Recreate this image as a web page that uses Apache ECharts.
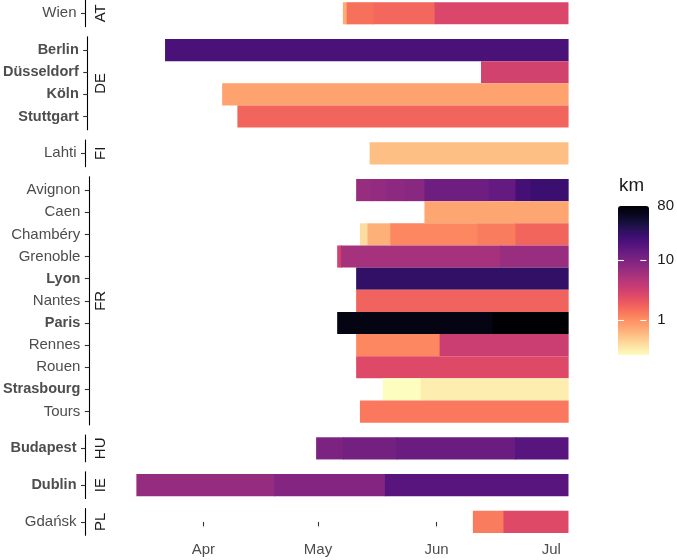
<!DOCTYPE html>
<html><head><meta charset="utf-8">
<script src="https://cdn.jsdelivr.net/npm/echarts@6/dist/echarts.min.js"></script>
<style>html,body{margin:0;padding:0;background:#fff}#c{width:677px;height:560px}</style>
</head><body><div id="c"></div>
<script>
// ---------- data ----------
const countries = ["AT", "DE", "FI", "FR", "HU", "IE", "PL"];
const citiesAT = ["Wien"];
const citiesDE = ["Berlin", "Düsseldorf", "Köln", "Stuttgart"];
const citiesFI = ["Lahti"];
const citiesFR = ["Avignon", "Caen", "Chambéry", "Grenoble", "Lyon", "Nantes", "Paris", "Rennes", "Rouen", "Strasbourg", "Tours"];
const citiesHU = ["Budapest"];
const citiesIE = ["Dublin"];
const citiesPL = ["Gdańsk"];
const boldCities = ["Berlin", "Düsseldorf", "Köln", "Stuttgart", "Lyon", "Paris", "Strasbourg", "Budapest", "Dublin"];

// runs: [city, first day, km]; a run lasts until the next run of the same city starts (or lastDay)
const runsAT = [["Wien", "2020-05-08", 0.7], ["Wien", "2020-05-09", 1.45], ["Wien", "2020-05-16", 1.63], ["Wien", "2020-06-01", 2.72]];
const runsDE = [["Berlin", "2020-03-22", 20.8], ["Düsseldorf", "2020-06-13", 3.05], ["Köln", "2020-04-06", 0.79], ["Stuttgart", "2020-04-10", 1.67]];
const runsFI = [["Lahti", "2020-05-15", 0.56]];
const runsFR = [
  ["Avignon", "2020-05-11", 7.0], ["Avignon", "2020-05-15", 7.4], ["Avignon", "2020-05-19", 8.0], ["Avignon", "2020-05-24", 8.4], ["Avignon", "2020-05-29", 12.4], ["Avignon", "2020-06-15", 14.4], ["Avignon", "2020-06-22", 22.7], ["Avignon", "2020-06-26", 25.4],
  ["Caen", "2020-05-29", 0.75],
  ["Chambéry", "2020-05-12", 0.39], ["Chambéry", "2020-05-14", 0.67], ["Chambéry", "2020-05-20", 1.12], ["Chambéry", "2020-06-12", 1.26], ["Chambéry", "2020-06-22", 1.67],
  ["Grenoble", "2020-05-06", 3.05], ["Grenoble", "2020-05-07", 5.7], ["Grenoble", "2020-06-18", 6.8],
  ["Lyon", "2020-05-11", 28.5],
  ["Nantes", "2020-05-11", 1.72],
  ["Paris", "2020-05-06", 67], ["Paris", "2020-06-16", 80],
  ["Rennes", "2020-05-11", 1.12], ["Rennes", "2020-06-02", 3.4],
  ["Rouen", "2020-05-11", 2.57],
  ["Strasbourg", "2020-05-18", 0.26], ["Strasbourg", "2020-05-28", 0.32],
  ["Tours", "2020-05-12", 1.33]
];
const runsHU = [["Budapest", "2020-05-01", 10.2], ["Budapest", "2020-05-08", 11.4], ["Budapest", "2020-05-22", 13.2], ["Budapest", "2020-06-22", 17]];
const runsIE = [["Dublin", "2020-03-15", 7.2], ["Dublin", "2020-04-20", 9.1], ["Dublin", "2020-05-19", 17]];
const runsPL = [["Gdańsk", "2020-06-11", 1.26], ["Gdańsk", "2020-06-19", 2.57]];
const lastDay = "2020-07-05";

const monthTicks = ["2020-04-01", "2020-05-01", "2020-06-01", "2020-07-01"];
const monthLabels = ["Apr", "May", "Jun", "Jul"];
const kmTicks = [1, 10, 80];
const kmTickLabels = ["1", "10", "80"];
const kmMin = 0.26, kmMax = 80;

// ---------- layout / style ----------
const xMin = "2020-03-01T04:41:00Z", xMax = "2020-07-11T03:00:00Z";
const ROW_H = 22.15, PAD = 0.1, PANEL_GAP = 10.2, TOP0 = 0;
const GRID_LEFT = 85.5, GRID_RIGHT = 87;
const FONT = "'Liberation Sans', Arial, Helvetica, sans-serif";
const magmaRev = ["#FCFDBF","#FDE7A9","#FECF92","#FEB77E","#FE9F6D","#FC8961","#F7705C","#ED5A5F","#DE4968","#CA3E72","#B73779","#A1307E","#8C2981","#782281","#641A80","#51127C","#3B0F70","#251255","#140E36","#07061C","#000004"];

const DAY = 86400000;
const ts = s => Date.parse(s + "T00:00:00Z");
const monthTickTs = monthTicks.map(ts);
const cityGroups = [citiesAT, citiesDE, citiesFI, citiesFR, citiesHU, citiesIE, citiesPL];
const runGroups = [runsAT, runsDE, runsFI, runsFR, runsHU, runsIE, runsPL];

function buildTiles(cities, runs) {
  const out = [];
  cities.forEach((c, idx) => {
    const rs = runs.filter(r => r[0] === c);
    rs.forEach((r, i) => {
      const start = ts(r[1]) - DAY / 2;
      const last = i + 1 === rs.length;
      const end = last ? ts(lastDay) + DAY / 2 : ts(rs[i + 1][1]) - DAY / 2;
      out.push([start, end, idx, Math.log10(r[2]), r[2], last ? 0 : 1]);
    });
  });
  return out;
}

function renderTile(params, api) {
  const a = api.coord([api.value(0), api.value(2)]);
  const b = api.coord([api.value(1), api.value(2)]);
  const h = api.size([0, 1])[1];
  const overlap = api.value(5) ? 0.8 : 0; // hide anti-aliasing seams between touching runs
  return {
    type: 'rect',
    shape: { x: a[0], y: a[1] - h / 2, width: b[0] - a[0] + overlap, height: h },
    style: { fill: api.visual('color') }
  };
}

function nearestLabel(v, positions, labels) {
  let best = 0;
  positions.forEach((p, i) => { if (Math.abs(p - v) < Math.abs(positions[best] - v)) best = i; });
  return labels[best];
}

const grids = [], xAxes = [], yAxes = [], series = [], graphics = [];
let panelTop = TOP0;
cityGroups.forEach((cities, g) => {
  const n = cities.length;
  const height = (n + 2 * PAD) * ROW_H;
  grids.push({ left: GRID_LEFT, right: GRID_RIGHT, top: panelTop, height: height });
  const isLast = g === cityGroups.length - 1;
  xAxes.push({
    gridIndex: g, type: 'value', min: Date.parse(xMin), max: Date.parse(xMax),
    show: isLast,
    axisLine: { show: false },
    splitLine: { show: false },
    axisTick: { show: true, customValues: monthTickTs, length: 4.5, lineStyle: { color: '#333333', width: 1.1 } },
    axisLabel: {
      show: true, customValues: monthTickTs, margin: 7,
      fontSize: 15, color: '#4D4D4D', fontFamily: FONT,
      formatter: v => nearestLabel(v, monthTickTs, monthLabels)
    }
  });
  yAxes.push({
    gridIndex: g, type: 'value', inverse: true, min: -0.5 - PAD, max: n - 0.5 + PAD,
    splitLine: { show: false },
    axisLine: { show: true, lineStyle: { color: '#000000', width: 1.1 } },
    axisTick: { show: true, customValues: cities.map((c, i) => i), length: 4.5, lineStyle: { color: '#333333', width: 1.1 } },
    axisLabel: {
      show: true, customValues: cities.map((c, i) => i), margin: 9,
      formatter: v => { const c = cities[Math.round(v)]; return c ? (boldCities.includes(c) ? '{b|' + c + '}' : '{n|' + c + '}') : ''; },
      rich: {
        b: { fontSize: 14.5, fontWeight: 'bold', color: '#4D4D4D', fontFamily: FONT },
        n: { fontSize: 15, color: '#4D4D4D', fontFamily: FONT }
      }
    }
  });
  series.push({
    type: 'custom', xAxisIndex: g, yAxisIndex: g,
    renderItem: renderTile, encode: { x: [0, 1], y: 2 },
    data: buildTiles(cities, runGroups[g]), silent: true
  });
  graphics.push({
    type: 'text', x: 101, y: panelTop + height / 2, rotation: Math.PI / 2,
    style: { text: countries[g], align: 'center', verticalAlign: 'middle', fontSize: 15, fill: '#1A1A1A', fontFamily: FONT }
  });
  panelTop += height + PANEL_GAP;
});

// colour-bar axis
const LG = { left: 618, top: 206, width: 31, height: 149 };
const lgIdx = grids.length;
grids.push({ left: LG.left, top: LG.top, width: LG.width, height: LG.height });
xAxes.push({ gridIndex: lgIdx, type: 'value', show: false, min: 0, max: 1 });
const kmTickPos = kmTicks.map(v => Math.log10(v));
const lgTickStyle = { show: true, inside: true, length: 6, customValues: kmTickPos.slice(0, 2), lineStyle: { color: '#FFFFFF', width: 1.1 } };
yAxes.push({
  gridIndex: lgIdx, type: 'value', position: 'left', min: Math.log10(kmMin), max: Math.log10(kmMax), z: 10,
  axisLine: { show: false }, splitLine: { show: false }, axisLabel: { show: false }, axisTick: lgTickStyle
});
yAxes.push({
  gridIndex: lgIdx, type: 'value', position: 'right', min: Math.log10(kmMin), max: Math.log10(kmMax), z: 10,
  axisLine: { show: false }, splitLine: { show: false }, axisTick: lgTickStyle,
  axisLabel: {
    show: true, customValues: kmTickPos, margin: 11, fontSize: 15, color: '#1A1A1A', fontFamily: FONT,
    formatter: v => nearestLabel(v, kmTickPos, kmTickLabels)
  }
});
series.push({ type: 'line', xAxisIndex: lgIdx, yAxisIndex: yAxes.length - 1, data: [], silent: true });

graphics.push({
  type: 'text', x: 619, y: 186,
  style: { text: 'km', align: 'left', verticalAlign: 'middle', fontSize: 18.75, fill: '#1A1A1A', fontFamily: FONT }
});

const chart = echarts.init(document.getElementById('c'), null, { renderer: 'canvas' });
chart.setOption({
  animation: false,
  backgroundColor: '#FFFFFF',
  textStyle: { fontFamily: FONT },
  grid: grids, xAxis: xAxes, yAxis: yAxes, series: series,
  visualMap: {
    type: 'continuous', min: Math.log10(kmMin), max: Math.log10(kmMax), dimension: 3,
    seriesIndex: cityGroups.map((c, i) => i),
    inRange: { color: magmaRev },
    calculable: false, show: true, showLabel: false, text: null,
    itemWidth: LG.width, itemHeight: LG.height, left: LG.left, top: LG.top, padding: 0,
    orient: 'vertical'
  },
  graphic: graphics
});
</script></body></html>
